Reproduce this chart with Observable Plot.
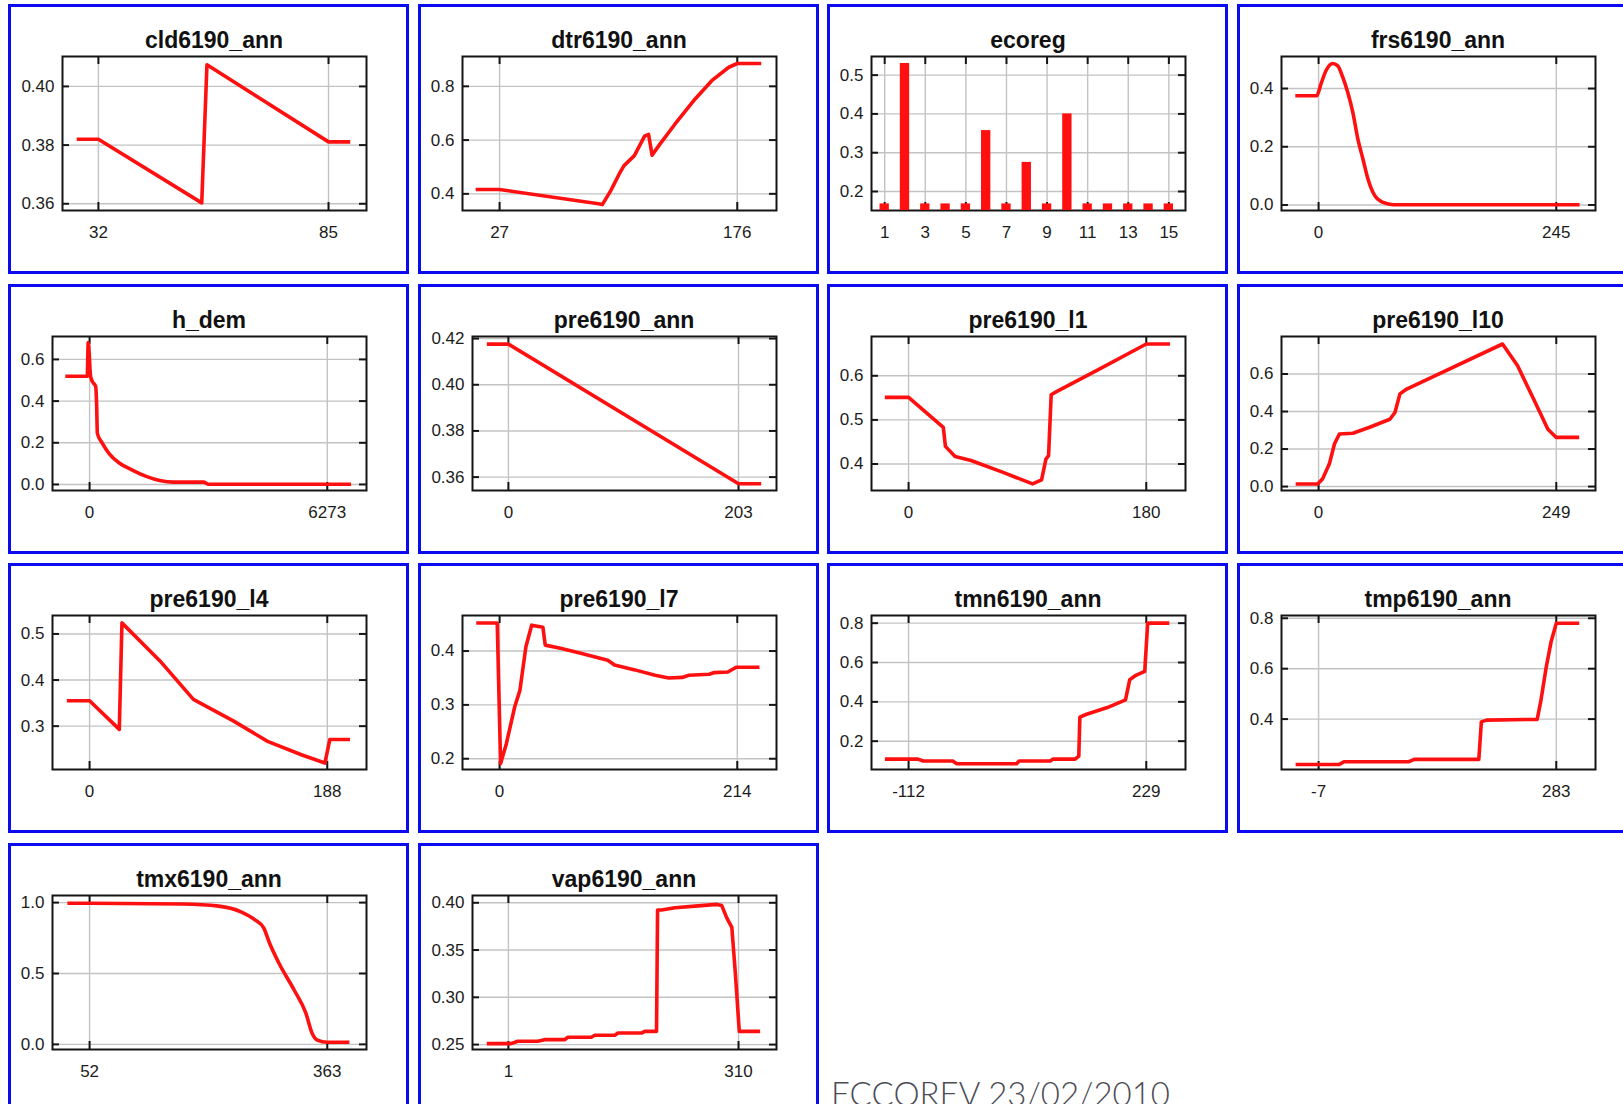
<!DOCTYPE html>
<html><head><meta charset="utf-8">
<script src="https://cdn.jsdelivr.net/npm/d3@7"></script>
<script src="https://cdn.jsdelivr.net/npm/@observablehq/plot@0.6"></script>
<style>
html,body{margin:0;padding:0;background:#fff}
body{width:1623px;height:1104px;overflow:hidden;position:relative;font-family:"Liberation Sans",Arial,sans-serif}
.panel{position:absolute;width:401px;height:270px;box-sizing:border-box;border:3px solid #0b0bf0;background:#fff;overflow:hidden}
.panel svg{position:absolute;left:0;top:0}
.ptitle{position:absolute;font:bold 23px "Liberation Sans",Arial,sans-serif;color:#111;text-align:center;line-height:26px;white-space:nowrap}
#caption{position:absolute;left:831px;top:1077px;font-family:Lato,"Open Sans",sans-serif;font-weight:300;font-size:33px;color:#4b4b55;white-space:nowrap;line-height:1}
</style>
</head><body>
<div id="caption">ECCOREV 23/02/2010</div>
<script>
// ---------- data ----------
const panelNames = ["cld6190_ann","dtr6190_ann","ecoreg","frs6190_ann","h_dem","pre6190_ann","pre6190_l1","pre6190_l10","pre6190_l4","pre6190_l7","tmn6190_ann","tmp6190_ann","tmx6190_ann","vap6190_ann"];

const cld6190_ann = [[27,0.382],[32,0.382],[55.8,0.3603],[57,0.4074],[85,0.3811],[90,0.3811]];
const dtr6190_ann = [[12,0.416],[27,0.416],[89,0.363],[91.4,0.36],[96.7,0.412],[102,0.474],[105,0.505],[111.5,0.542],[117.9,0.615],[120.4,0.621],[122.6,0.544],[127.4,0.584],[137,0.66],[149.6,0.753],[160,0.821],[170.7,0.871],[176,0.885],[191,0.885]];
const ecoregClasses = [1,2,3,4,5,6,7,8,9,10,11,12,13,14,15];
const ecoregValues = [0.168,0.530,0.168,0.168,0.168,0.357,0.168,0.275,0.168,0.400,0.168,0.168,0.168,0.168,0.168];
const frs6190_ann = [[-24,0.375],[-2,0.375],[2.4,0.415],[7.6,0.461],[14.6,0.486],[19.8,0.478],[25,0.438],[30.1,0.386],[35.3,0.318],[40.5,0.226],[45.7,0.158],[50.9,0.089],[57.9,0.032],[66.5,0.009],[76.9,0.001],[269,0.001]];
const h_dem = [[-640,0.519],[-62,0.519],[-36,0.681],[27,0.519],[71,0.495],[160,0.471],[187,0.374],[205,0.245],[338,0.197],[516,0.148],[783,0.103],[1139,0.068],[1495,0.039],[1851,0.019],[2207,0.011],[3007,0.011],[3141,0.001],[6900,0.001]];
const pre6190_ann = [[-19,0.4176],[0,0.4176],[203,0.3571],[223,0.3571]];
const pre6190_l1 = [[-18,0.551],[0,0.551],[26.3,0.483],[27.9,0.44],[35.2,0.417],[47.3,0.408],[71.6,0.381],[93.9,0.355],[100.7,0.364],[104,0.411],[106,0.419],[108,0.557],[112,0.564],[144.4,0.615],[180,0.672],[198,0.672]];
const pre6190_l10 = [[-24,0.014],[-1,0.014],[4.2,0.041],[11.3,0.121],[16.6,0.227],[21.8,0.28],[35.9,0.284],[53.5,0.316],[74.7,0.359],[80,0.395],[85.2,0.494],[92.3,0.52],[192.7,0.76],[208.5,0.644],[226.1,0.457],[240.2,0.306],[249,0.262],[273,0.262]];
const pre6190_l4 = [[-18,0.355],[0,0.355],[23.5,0.293],[25.6,0.524],[55.5,0.442],[82.1,0.358],[114,0.311],[140.8,0.267],[167.5,0.238],[186.1,0.22],[190,0.271],[206,0.271]];
const pre6190_l7 = [[-21,0.452],[-2.1,0.452],[0.9,0.191],[6.1,0.228],[13.7,0.297],[18.3,0.327],[23.7,0.408],[28.9,0.448],[39,0.444],[41.1,0.411],[54.8,0.405],[73.1,0.396],[97.4,0.383],[103.5,0.374],[121.8,0.365],[140,0.355],[152.2,0.35],[164.4,0.351],[170.5,0.355],[188.8,0.357],[193.3,0.36],[205.5,0.361],[213,0.37],[234,0.37]];
const tmn6190_ann = [[-146,0.109],[-98.6,0.109],[-91,0.099],[-48.7,0.099],[-42.8,0.085],[42.9,0.085],[46.6,0.099],[91.3,0.099],[95,0.109],[127,0.109],[132.2,0.124],[133.7,0.322],[143.4,0.337],[173.1,0.371],[199.2,0.41],[205.2,0.512],[214.1,0.535],[226.8,0.555],[231,0.8],[262,0.8]];
const tmp6190_ann = [[-35,0.22],[18.2,0.22],[24.5,0.231],[103.3,0.231],[109.6,0.24],[188.5,0.24],[191.6,0.389],[198,0.396],[259.7,0.399],[264,0.469],[270.4,0.6],[276.7,0.707],[283,0.78],[311,0.78]];
const tmx6190_ann = [[23,0.995],[52,0.995],[173,0.99],[221,0.975],[250,0.935],[268,0.88],[280,0.82],[287,0.72],[300,0.57],[320,0.38],[335,0.22],[343,0.08],[350,0.03],[363,0.015],[392,0.015]];
const vap6190_ann = [[-28,0.251],[4.6,0.251],[13.6,0.2535],[40.5,0.2535],[49.5,0.2552],[76.4,0.2552],[80.9,0.2577],[112.4,0.2577],[116.9,0.2598],[143.8,0.2598],[148.3,0.2622],[179.7,0.2622],[184,0.264],[199.9,0.264],[201.3,0.3923],[206.7,0.3923],[224.6,0.3948],[251.6,0.3965],[280.8,0.3983],[287.5,0.397],[294.2,0.384],[301,0.374],[305.6,0.327],[311,0.264],[339,0.264]];

const xTicks = [[32,85],[27,176],[1,3,5,7,9,11,13,15],[0,245],[0,6273],[0,203],[0,180],[0,249],[0,188],[0,214],[-112,229],[-7,283],[52,363],[1,310]];
const yTicks = [[0.36,0.38,0.40],[0.4,0.6,0.8],[0.2,0.3,0.4,0.5],[0,0.2,0.4],[0,0.2,0.4,0.6],[0.36,0.38,0.40,0.42],[0.4,0.5,0.6],[0,0.2,0.4,0.6],[0.3,0.4,0.5],[0.2,0.3,0.4],[0.2,0.4,0.6,0.8],[0.4,0.6,0.8],[0,0.5,1.0],[0.25,0.30,0.35,0.40]];
const yDecimals = [2,1,1,1,1,2,1,1,1,1,1,1,1,2];
const yDomains = [[0.3577,0.4102],[0.338,0.911],[0.151,0.548],[-0.019,0.51],[-0.029,0.71],[0.3542,0.4209],[0.34,0.689],[-0.021,0.80],[0.206,0.54],[0.18,0.466],[0.056,0.839],[0.2,0.811],[-0.036,1.05],[0.2448,0.4077]];
const ecoregXDomain = [0.35,15.82];
const curves = [cld6190_ann,dtr6190_ann,null,frs6190_ann,h_dem,pre6190_ann,pre6190_l1,pre6190_l10,pre6190_l4,pre6190_l7,tmn6190_ann,tmp6190_ann,tmx6190_ann,vap6190_ann];
const smoothPanels = ["frs6190_ann","h_dem","tmx6190_ann"];

// ---------- drawing ----------
const W = 395, H = 264, MT = 49, MB = 61, MR = 40;
const RED = "#ff1010", INK = "#151515", GRID = "#c3c3c3";

panelNames.forEach((name, i) => {
  const col = i % 4, row = Math.floor(i / 4);
  const div = document.createElement("div");
  div.className = "panel";
  div.style.left = Math.round(8 + col * 409.7) + "px";
  div.style.top = Math.round(4 + row * 279.5) + "px";
  document.body.appendChild(div);

  const xt = xTicks[i], yt = yTicks[i], yd = yDomains[i];
  const ml = yDecimals[i] === 2 ? 51 : 41;
  const pw = W - ml - MR, ph = H - MT - MB;
  let xd;
  if (name === "ecoreg") xd = ecoregXDomain;
  else { const s = xt[xt.length-1] - xt[0]; xd = [xt[0] - 0.156*s, xt[xt.length-1] + 0.165*s]; }

  const marks = [
    Plot.gridX(xt, {stroke: GRID, strokeOpacity: 1, strokeWidth: 1.4}),
    Plot.gridY(yt, {stroke: GRID, strokeOpacity: 1, strokeWidth: 1.4}),
    Plot.axisY(yt, {tickSize: 0, tickPadding: 8, label: null, fontSize: 17, fill: "#1c1c1c", tickFormat: d3.format("." + yDecimals[i] + "f")}),
    Plot.axisX(xt, {tickSize: 0, tickPadding: 15, label: null, fontSize: 17, fill: "#1c1c1c", tickFormat: d => String(d)}),
    Plot.frame({stroke: INK, strokeWidth: 2}),
    Plot.tickY(yt, {y: d => d, insetRight: pw - 7, stroke: INK, strokeWidth: 2}),
    Plot.tickY(yt, {y: d => d, insetLeft: pw - 7, stroke: INK, strokeWidth: 2}),
    Plot.tickX(xt, {x: d => d, insetBottom: ph - 8, stroke: INK, strokeWidth: 2}),
    Plot.tickX(xt, {x: d => d, insetTop: ph - 8, stroke: INK, strokeWidth: 2})
  ];
  if (name === "ecoreg") {
    marks.push(Plot.rectY(ecoregClasses, {x1: d => d - 0.23, x2: d => d + 0.23, y1: () => yd[0], y2: (d, k) => ecoregValues[k], fill: RED}));
  }
  if (curves[i]) {
    marks.push(Plot.line(curves[i], {x: d => d[0], y: d => d[1], stroke: RED, strokeWidth: 3.6, strokeLinejoin: "round", strokeLinecap: "butt",
      curve: smoothPanels.includes(name) ? "monotone-x" : "linear"}));
  }

  const svg = Plot.plot({
    width: W, height: H,
    marginTop: MT, marginBottom: MB, marginLeft: ml, marginRight: MR,
    x: {type: "linear", domain: xd},
    y: {type: "linear", domain: yd},
    style: {fontFamily: "'Liberation Sans', Arial, sans-serif", fontSize: "17px", color: "#1c1c1c", background: "transparent", overflow: "visible"},
    marks
  });
  div.appendChild(svg);

  const t = document.createElement("div");
  t.className = "ptitle";
  t.textContent = name;
  t.style.left = ml + "px";
  t.style.width = pw + "px";
  t.style.top = (33 - 13) + "px";
  div.appendChild(t);
});
</script>
</body></html>
